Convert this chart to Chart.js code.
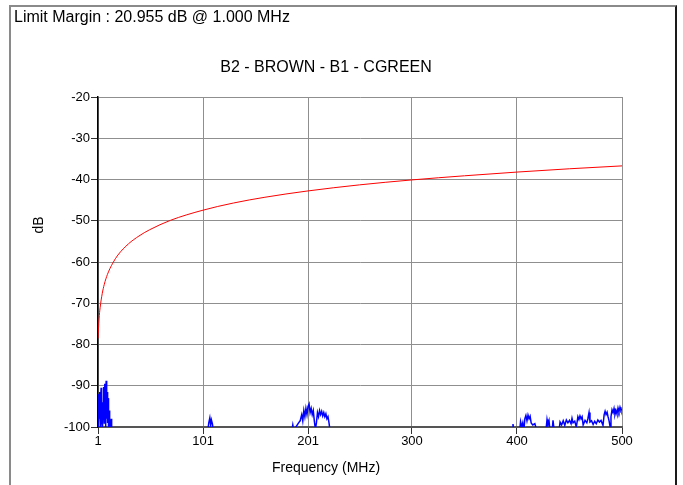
<!DOCTYPE html>
<html>
<head>
<meta charset="utf-8">
<script src="https://cdn.jsdelivr.net/npm/chart.js@4/dist/chart.umd.min.js"></script>
<style>
  html, body { margin: 0; padding: 0; background: #fff; overflow: hidden; }
  #frame { position: absolute; left: 9px; top: 5px; width: 664px; height: 600px;
           border-top: 2px solid #8a8a8a; border-left: 2px solid #8a8a8a; border-right: 2px solid #1a1a1a; }
  #wrap { position: absolute; left: 0; top: 0; width: 683px; height: 485px; }
</style>
</head>
<body>
<div id="frame"></div>
<div id="wrap"><canvas id="c" width="683" height="485"></canvas></div>
<script>
// ---- Data ----
const headerText = "Limit Margin : 20.955 dB @ 1.000 MHz";
const chartTitle = "B2 - BROWN - B1 - CGREEN";
const xAxisTitle = "Frequency (MHz)";
const yAxisTitle = "dB";
const xTickValues = [1, 101, 201, 300, 400, 500];

// Limit line (red)
const limitFreq = [1, 2, 3, 5, 7, 10, 15, 20, 30, 40, 50, 70, 100, 130, 160, 200, 250, 300, 350, 400, 450, 500];
const limitDb   = [-78.5, -73.8, -71.1, -67.7, -65.4, -63.0, -60.3, -58.3, -55.6, -53.7, -52.2, -49.9, -47.5, -45.7, -44.3, -42.8, -41.3, -40.1, -39.1, -38.2, -37.4, -36.7];

// Measured pair (blue) – null separates clusters that stay below the -100 floor
const measFreq = [
  1.0, 1.3, 1.6, 1.9, 2.2, 2.5, 2.8, 3.1, 3.4, 3.7, 4.0, 4.3, 4.6, 4.9, 5.2, 5.5, 5.8, 6.1, 6.4, 6.7,
  7.0, 7.3, 7.6, 7.9, 8.2, 8.5, 8.8, 9.1, 9.4, 9.7, 10.0, 10.3, 10.6, 10.9, 11.2, 11.5, 11.8, 12.1, 12.4, 12.8,
  13.2, 13.6, 14.0, 14.2,
  105.5, 106.5, 107.5, 108.3, 109, 110, 110.8, 111,
  185.5, 186.5, 187.5, 190, 192, 193.5, 195, 196, 197, 198, 199, 200, 201, 202, 203, 204, 205, 206, 207, 208,
  209, 210, 211, 212, 213, 214, 215, 216, 217, 218, 219, 220, 221, 222, 222.5,
  395.5, 396.2, 397, 402.5, 403.4, 404.5, 405.5, 406.5, 407.5, 408.5, 409.5, 410.5, 411.5, 412.5, 413.5, 415,
  417, 419, 427.5, 428.6, 429.5, 430.5, 431.5, 433.5, 434.3, 435.5, 440, 441, 442.5, 444, 445.5, 447, 448.5, 450,
  451.5, 452.4, 453.4, 455, 456.5, 458, 459, 460, 461, 462, 463, 464.8, 466.5, 467.5, 468.6, 469.5, 471, 472.5,
  474, 475.5, 477, 478.5, 480, 481.9, 483, 483.9, 484.8, 485.8, 486.7, 487.7, 488.6, 489.5, 490.5, 491.5, 492.4,
  493.3, 494.3, 495.2, 496.2, 497.1, 498.1, 499, 500
];
const measDb = [
  -101, -97, -92, -99, -95, -91.5, -98, -96, -100, -93, -90.5, -97, -92, -99, -94, -100, -95, -90.3, -96, -91,
  -99, -93, -89.5, -95, -100, -92, -88.8, -94, -98, -91.5, -96, -99, -93, -97, -100, -96, -101, -98, -101, -98.5,
  -101, -98, -101, null,
  -101, -99, -97.8, -99.5, -98.3, -99.3, -101, null,
  -101, -99.5, -101, -99.8, -99, -98.5, -97, -98.5, -96, -97.5, -95.5, -97, -95, -94.4, -96.5, -95.5, -97, -96, -98.5, -100.5,
  -99, -96.5, -97.5, -96, -97, -96.2, -97.3, -96.5, -97.5, -96.8, -98, -97.5, -99, -101, null,
  -101, -99.3, -101, -101, -98.7, -100, -99, -101, -98, -97.2, -98.5, -97.1, -98, -97.4, -99, -99.5,
  -99.2, -101, -101, -98.2, -99.5, -98.5, -101, -101, -98.4, -101, -101, -98.8, -99.5, -98.5, -99.6, -98.3, -99, -98.4,
  -99.2, -97.9, -99, -98.6, -100, -97.5, -98.2, -97.3, -98, -97.5, -99.5, -98.4, -99, -98, -96.5, -98.8, -98.5, -99.4,
  -98.6, -99.2, -98.3, -98.8, -98.4, -99.6, -97, -96.2, -97, -96.4, -97.5, -98.5, -99.8, -97.5, -95.8, -96.5, -95.5,
  -97, -96, -96.8, -95.4, -96.3, -95.2, -96, -95.6
];

const limitPoints = limitFreq.map((f, i) => ({ x: f, y: limitDb[i] }));
const measPoints = measFreq.map((f, i) => ({ x: f, y: measDb[i] }));

const FONT = "'Liberation Sans', Arial, sans-serif";

const textPlugin = {
  id: 'texts',
  afterDraw(chart) {
    const ctx = chart.ctx;
    ctx.save();
    ctx.fillStyle = '#000';
    ctx.textBaseline = 'middle';
    ctx.font = "16px " + FONT;
    ctx.textAlign = 'left';
    ctx.fillText(headerText, 14, 18);
    ctx.textAlign = 'center';
    ctx.fillText(chartTitle, 326, 68);
    ctx.font = "14px " + FONT;
    ctx.fillText(xAxisTitle, 326, 468);
    ctx.translate(39, 225);
    ctx.rotate(-Math.PI / 2);
    ctx.fillText(yAxisTitle, 0, 0);
    ctx.restore();
  }
};

new Chart(document.getElementById('c'), {
  type: 'line',
  data: {
    datasets: [
      { data: measPoints, borderColor: '#0000ff', borderWidth: 1.5, pointRadius: 0, tension: 0, spanGaps: false },
      { data: limitPoints, borderColor: '#ff0000', borderWidth: 1, pointRadius: 0, cubicInterpolationMode: 'monotone' }
    ]
  },
  options: {
    responsive: false,
    animation: false,
    events: [],
    layout: { padding: { left: 0, top: 97, right: 61, bottom: 0 } },
    plugins: { legend: { display: false }, title: { display: false }, tooltip: { enabled: false } },
    scales: {
      x: {
        type: 'linear', min: 1, max: 500,
        afterBuildTicks: (s) => { s.ticks = xTickValues.map(v => ({ value: v })); },
        afterFit: (s) => { s.height = 58; },
        grid: { color: '#8f8f8f', lineWidth: 1, tickLength: 7, tickColor: '#333' },
        border: { display: true, color: '#555', width: 2 },
        ticks: { color: '#000', font: { family: FONT, size: 13 }, padding: 0, maxRotation: 0, autoSkip: false }
      },
      y: {
        min: -100, max: -20,
        afterFit: (s) => { s.width = 98; },
        grid: { color: '#8f8f8f', lineWidth: 1, tickLength: 7, tickColor: '#333' },
        border: { display: true, color: '#000', width: 1.5 },
        ticks: { stepSize: 10, color: '#000', font: { family: FONT, size: 13 }, padding: 1 }
      }
    }
  },
  plugins: [textPlugin]
});
</script>
</body>
</html>
